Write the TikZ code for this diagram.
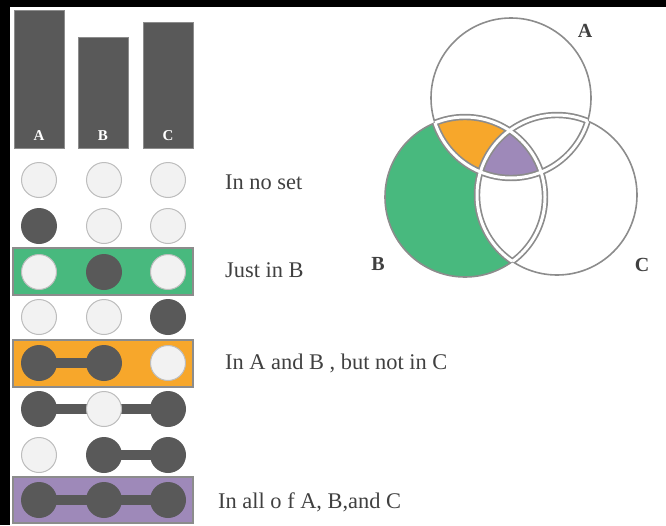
\documentclass[tikz,border=0pt]{standalone}
\usepackage{fontspec}
\setmainfont{Liberation Serif}
\usepackage{xcolor}
\usepackage{tikz}
\usetikzlibrary{positioning}
\definecolor{ink}{HTML}{404040}
\definecolor{bar}{HTML}{595959}
\definecolor{dotoff}{HTML}{F2F2F2}
\definecolor{dotrim}{HTML}{BDBDBD}
\definecolor{rim}{HTML}{8C8C8C}
\definecolor{setgreen}{HTML}{48B97E}
\definecolor{setorange}{HTML}{F7A72B}
\definecolor{setpurple}{HTML}{9E89B9}
\pgfdeclarelayer{boxes}
\pgfdeclarelayer{links}
\pgfsetlayers{boxes,links,main}
\tikzset{
  barbox/.style={fill=bar, draw=rim, line width=0.8pt},
  barlab/.style={text=white, font=\bfseries\fontsize{15}{15}\selectfont, inner sep=0pt},
  on/.style={circle, fill=bar, minimum size=36pt, inner sep=0pt},
  off/.style={circle, fill=dotoff, draw=dotrim, line width=1pt, minimum size=35pt, inner sep=0pt},
  link/.style={draw=bar, line width=10pt},
  rowbox/.style={draw=rim, line width=1.6pt},
  lab/.style={text=ink, font=\fontsize{22.4}{26}\selectfont, anchor=west, inner sep=0pt},
  setlab/.style={text=ink, font=\bfseries\fontsize{20}{24}\selectfont, inner sep=0pt},
  outline/.style={draw=rim, line width=1.6pt},
  seam/.style={draw=rim, line width=6.4pt},
  gap/.style={draw=white, line width=3pt}
}

\begin{document}
\begin{tikzpicture}[x=1pt,y=-1pt]
  \useasboundingbox (0,0) rectangle (666,525);
  \fill[black] (0,0) rectangle (666,7);
  \fill[black] (0,0) rectangle (10,525);

  % set sizes
  \draw[barbox] (14,10) rectangle (64,148);
  \draw[barbox] (78,37) rectangle (128,148);
  \draw[barbox] (143,22) rectangle (193,148);
  \node[barlab] (barA) at (39,136) {A};
  \node[barlab] (barB) at (103,136) {B};
  \node[barlab] (barC) at (168,136) {C};

  % membership rows
  \begin{pgfonlayer}{boxes}
    \draw[rowbox, fill=setgreen] (13,248) rectangle (193,295);
    \draw[rowbox, fill=setorange] (13,340) rectangle (193,387);
    \draw[rowbox, fill=setpurple] (13,477) rectangle (193,523);
  \end{pgfonlayer}
  \foreach \r/\y/\a/\b/\c in {1/180/off/off/off, 2/226/on/off/off,
      3/272/off/on/off, 4/317/off/off/on, 5/363/on/on/off,
      6/409/on/off/on, 7/455/off/on/on, 8/500/on/on/on} {
    \node[\a] (d\r a) at (39,\y) {};
    \node[\b] (d\r b) at (104,\y) {};
    \node[\c] (d\r c) at (168,\y) {};
  }
  \begin{pgfonlayer}{links}
    \draw[link] (d5a.center) -- (d5b.center);
    \draw[link] (d6a.center) -- (d6c.center);
    \draw[link] (d7b.center) -- (d7c.center);
    \draw[link] (d8a.center) -- (d8c.center);
  \end{pgfonlayer}

  \node[lab] (none) at (225,182) {In no set};
  \node[lab] (onlyB) at (225,270) {Just in B};
  \node[lab] (AB) at (225,363) {In A and B , but not in C};
  \node[lab] (ABC) at (218,502) {In all o f A, B,and C};

  % venn
  \coordinate (cA) at (511,98);
  \coordinate (cB) at (465,197);
  \coordinate (cC) at (557,195);
  \def\rad{80}
  \fill[setgreen] (cB) circle[radius=\rad];
  \begin{scope}
    \clip (cB) circle[radius=\rad];
    \fill[white] (cC) circle[radius=\rad];
    \fill[setorange] (cA) circle[radius=\rad];
    \clip (cA) circle[radius=\rad];
    \fill[setpurple] (cC) circle[radius=\rad];
  \end{scope}
  \draw[outline] (cA) circle[radius=\rad] (cB) circle[radius=\rad] (cC) circle[radius=\rad];
  % double borders inside the overlaps
  \foreach \w in {seam,gap}
    \foreach \s/\p/\q in {A/B/C, B/A/C, C/A/B} {
      \begin{scope}
        \clip (c\p) circle[radius=\rad] (c\q) circle[radius=\rad];
        \draw[\w] (c\s) circle[radius=\rad];
      \end{scope}
    }

  \node[setlab] (labA) at (585,31) {A};
  \node[setlab] (labB) at (378,264) {B};
  \node[setlab] (labC) at (642,265) {C};
\end{tikzpicture}
\end{document}
